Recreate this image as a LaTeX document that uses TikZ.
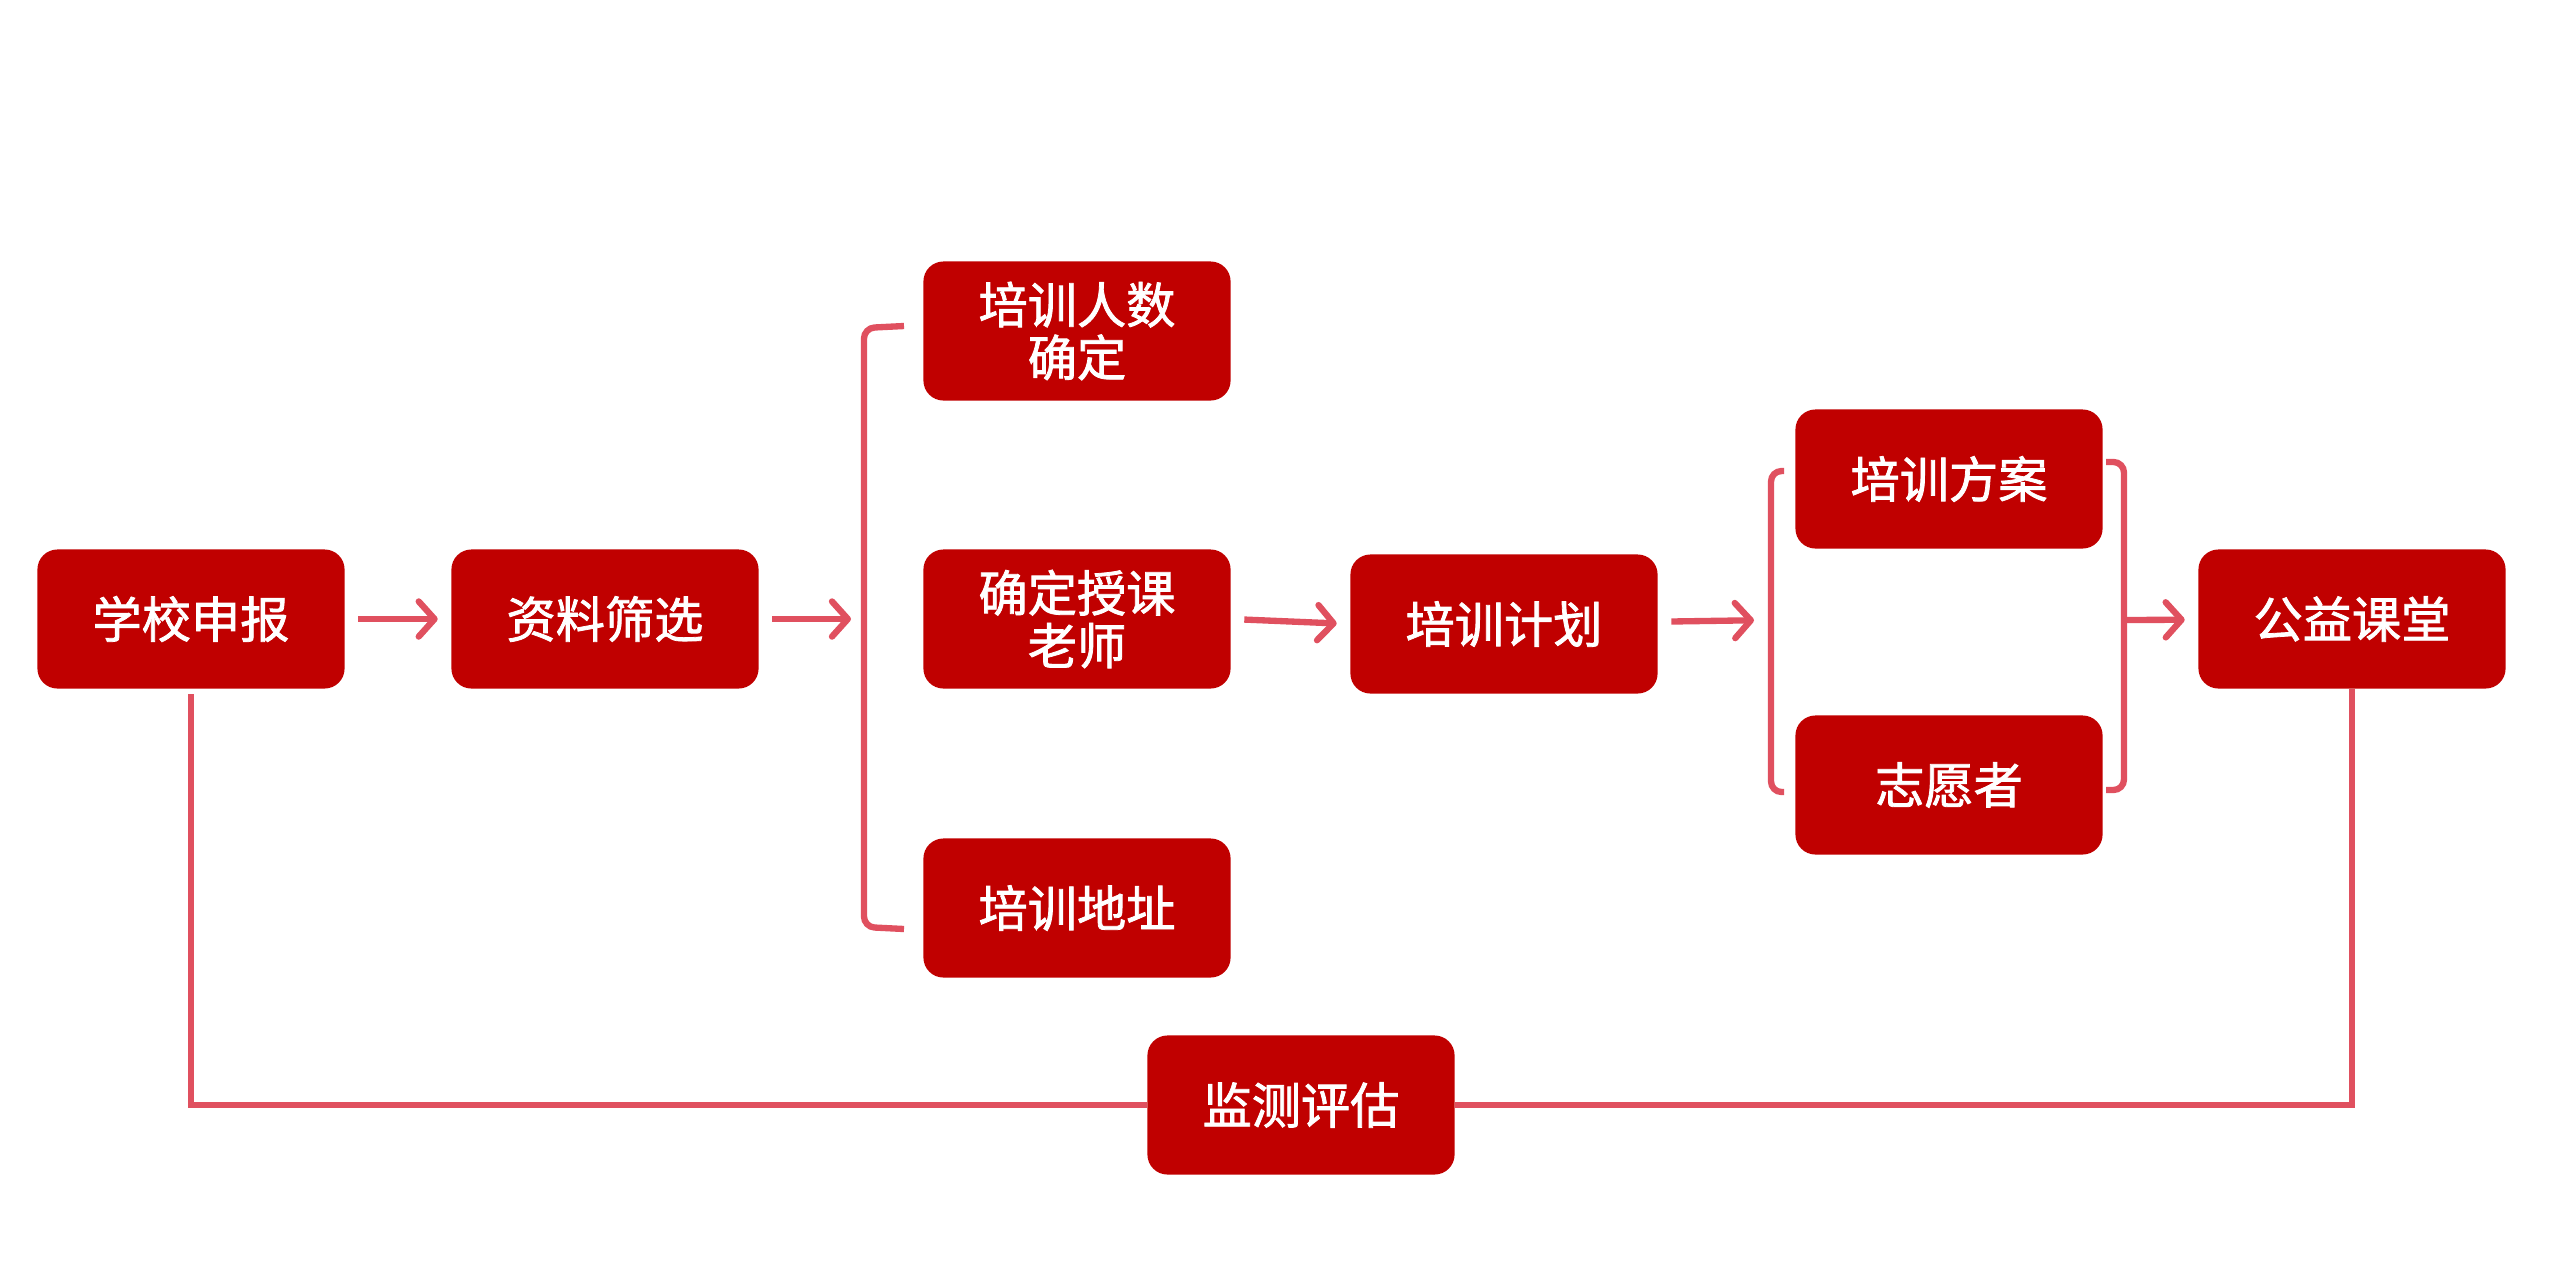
\documentclass[tikz,border=0pt]{standalone}
\usepackage{fontspec}
\newfontfamily\cjk[FakeBold=1.6]{Noto Sans CJK SC}
\usepackage{tikz}
\usetikzlibrary{arrows.meta}
\definecolor{boxred}{HTML}{C00000}
\definecolor{linkred}{HTML}{E0505F}
\tikzset{
  box/.style={draw=none, fill=boxred, rounded corners=0.2cm, minimum width=3.07cm,
    minimum height=1.39cm, inner sep=0pt, text=white, align=center,
    font=\cjk\fontsize{14}{15}\selectfont},
  link/.style={draw=linkred, line width=1.8pt},
  arrow/.style={link, -{Straight Barb[length=4.5pt,width=10pt,round]},
    shorten <=0.13cm, shorten >=0.13cm}
}

\begin{document}
\begin{tikzpicture}[x=0.01cm,y=-0.01cm]
        \useasboundingbox (0,0) rectangle (2560,1275);
        % boxes
        \node[box] (school)  at (191,619)  {学校申报};
        \node[box] (screen)  at (605,619)  {资料筛选};
        \node[box] (number)  at (1077,331) {培训人数\\确定};
        \node[box] (teacher) at (1077,619) {确定授课\\老师};
        \node[box] (address) at (1077,908) {培训地址};
        \node[box] (plan)    at (1504,624) {培训计划};
        \node[box] (scheme)  at (1949,479) {培训方案};
        \node[box] (volunt)  at (1949,785) {志愿者};
        \node[box] (class)   at (2352,619) {公益课堂};
        \node[box] (eval)    at (1301,1105) {监测评估};

        % brackets
        \coordinate (brA) at (864,619);
        \coordinate (brB) at (1771,620);
        \coordinate (brC) at (2124,620);
        \draw[link, rounded corners=3pt] (904,326) -- (864,328) -- (864,927) -- (904,929);
        \draw[link, rounded corners=3pt] (1784,471) -- (1771,471) -- (1771,792) -- (1784,792);
        \draw[link, rounded corners=3pt] (2106,462) -- (2124,462) -- (2124,790) -- (2106,790);

        % arrows
        \draw[arrow] (school) -- (screen);
        \draw[arrow] (screen) -- (brA);
        \draw[arrow] (teacher.east) -- (plan.west);
        \draw[arrow, shorten >=0.17cm] (plan) -- (brB);
        \draw[arrow, shorten <=0pt] (brC) -- (class);

        % feedback
        \draw[link] (school.south) ++(0,5) |- (eval.west);
        \draw[link] (class.south) |- (eval.east);
    \end{tikzpicture}
\end{document}
